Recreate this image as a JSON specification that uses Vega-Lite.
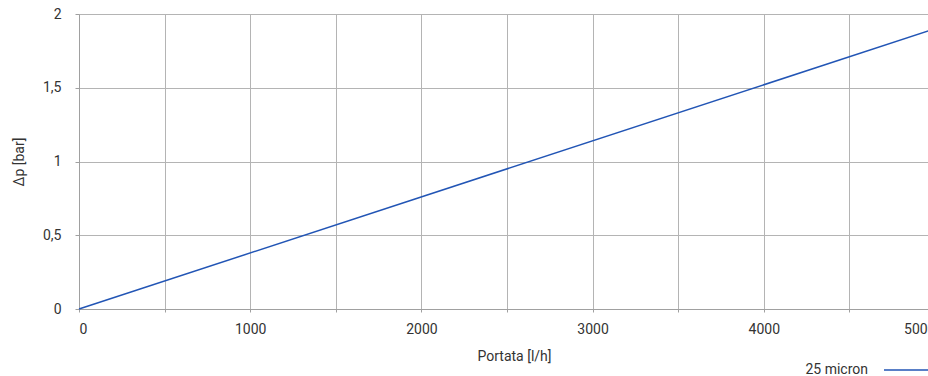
{
  "$schema": "https://vega.github.io/schema/vega-lite/v6.json",
  "width": 856,
  "height": 295,
  "autosize": {"type": "none"},
  "padding": {"left": 79, "top": 14, "right": 0, "bottom": 67},
  "background": "white",
  "config": {
    "view": {"stroke": null},
    "font": "Roboto",
    "axis": {
      "labelFont": "Roboto",
      "titleFont": "Roboto",
      "labelFontSize": 14,
      "titleFontSize": 14,
      "titleFontWeight": "normal",
      "labelColor": "#333333",
      "titleColor": "#333333",
      "gridColor": "#b4b4b4",
      "gridOpacity": 1,
      "domainColor": "#a0a0a0",
      "tickColor": "#a0a0a0",
      "tickSize": 3
    }
  },
  "data": {
    "values": [
      {"portata": 0, "dp": 0, "serie": "25 micron"},
      {"portata": 5000, "dp": 1.9, "serie": "25 micron"}
    ]
  },
  "mark": {"type": "line", "strokeWidth": 1.5, "clip": false},
  "encoding": {
    "x": {
      "field": "portata",
      "type": "quantitative",
      "scale": {"domain": [0, 5000], "nice": false},
      "axis": {
        "title": "Portata [l/h]",
        "values": [0, 500, 1000, 1500, 2000, 2500, 3000, 3500, 4000, 4500, 5000],
        "labelExpr": "datum.value % 1000 == 0 ? datum.label : ''",
        "labelFlush": true,
        "labelPadding": 10,
        "titlePadding": 13,
        "titleX": 435,
        "format": "d"
      }
    },
    "y": {
      "field": "dp",
      "type": "quantitative",
      "scale": {"domain": [0, 2], "nice": false},
      "axis": {
        "title": "Δp [bar]",
        "values": [0, 0.5, 1, 1.5, 2],
        "format": "~g",
        "labelExpr": "replace(datum.label, '.', ',')",
        "labelPadding": 14,
        "titlePadding": 16,
        "tickSize": 4
      }
    },
    "color": {
      "field": "serie",
      "type": "nominal",
      "scale": {"range": ["#2255b5"]},
      "legend": {
        "title": null,
        "orient": "none",
        "legendX": 804,
        "legendY": 331,
        "symbolType": "stroke",
        "symbolSize": 2304,
        "symbolStrokeWidth": 1.5,
        "labelAlign": "right",
        "labelOffset": -65,
        "labelFont": "Roboto",
        "labelFontSize": 14,
        "labelColor": "#333333",
        "labelLimit": 200
      }
    }
  }
}
